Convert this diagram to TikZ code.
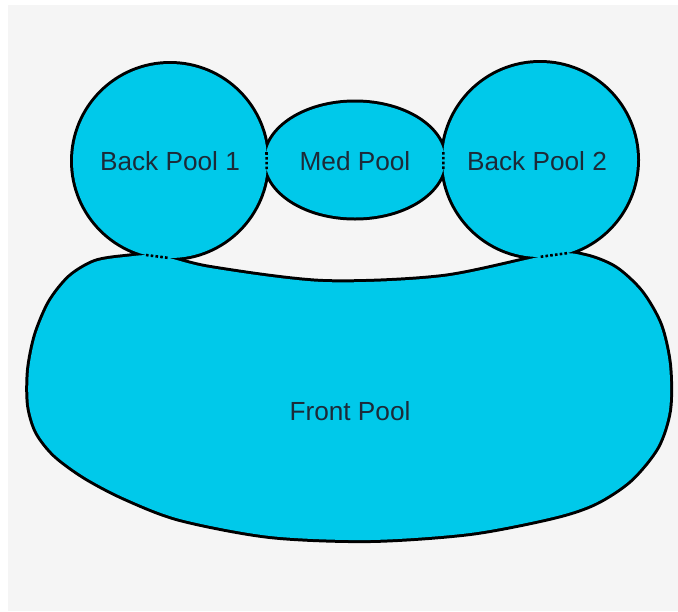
\documentclass[tikz,border=0pt]{standalone}
\usepackage{fontspec}
\setmainfont{Liberation Sans}
\usepackage{xcolor}
\usepackage{tikz}
\usetikzlibrary{intersections}
\definecolor{poolcyan}{RGB}{0,201,234}
\definecolor{bggray}{RGB}{245,245,245}
\definecolor{labelink}{RGB}{28,42,56}

\begin{document}
\begin{tikzpicture}[x=0.5pt,y=-0.5pt,
  rim/.style={draw=black,line width=3pt},
  water/.style={fill=poolcyan},
  neck/.style={black,line width=1.3pt,dash pattern=on 1.3pt off 1.1pt},
  poollabel/.style={text=labelink,font=\fontsize{13.1}{15}\selectfont}]
% canvas
\fill[white] (0,0) rectangle (678,611);
\fill[bggray] (8,5) rectangle (678,611);
% pool shapes: Back Pool 1, Med Pool, Back Pool 2, Front Pool
\def\poolA{(170,161) circle[radius=97]}
\def\poolM{(355,160) ellipse[x radius=89.5,y radius=57.5]}
\def\poolB{(540,160) circle[radius=97]}
\def\poolF{plot[smooth cycle,tension=0.5] coordinates {(158,255.5) (210,268) (323,282) (443,277)
  (552,254.5) (585,256) (615,268) (641,292) (660,325) (669,365) (669,410) (657,447) (630,480)
  (595,503) (553,517) (470,533) (370,540) (270,536) (180,519) (125,498) (85,477) (55,455)
  (37,432) (29,405) (29,370) (36,335) (50,302) (70,277) (95,262) (125,257)}}
\path[name path=pa] \poolA;
\path[name path=pm] \poolM;
\path[name path=pb] \poolB;
\path[name path=pf] \poolF;
% outlines first, water on top hides the inner half and the overlaps
\foreach \shape in {\poolA,\poolM,\poolB,\poolF} {\draw[rim] \shape;}
\foreach \shape in {\poolA,\poolM,\poolB,\poolF} {\fill[water] \shape;}
% dotted joins
\path[name intersections={of=pa and pm,name=am}];
\path[name intersections={of=pm and pb,name=mb}];
\path[name intersections={of=pa and pf,name=af}];
\path[name intersections={of=pb and pf,name=bf}];
\draw[neck] (am-1) -- (am-2);
\draw[neck] (mb-1) -- (mb-2);
\draw[neck] (af-1) -- (af-2);
\draw[neck] (bf-1) -- (bf-2);
% labels
\node[poollabel] (bp1) at (170,161) {Back Pool 1};
\node[poollabel] (med) at (355,161) {Med Pool};
\node[poollabel] (bp2) at (537,161) {Back Pool 2};
\node[poollabel] (front) at (350,411) {Front Pool};
\end{tikzpicture}
\end{document}
